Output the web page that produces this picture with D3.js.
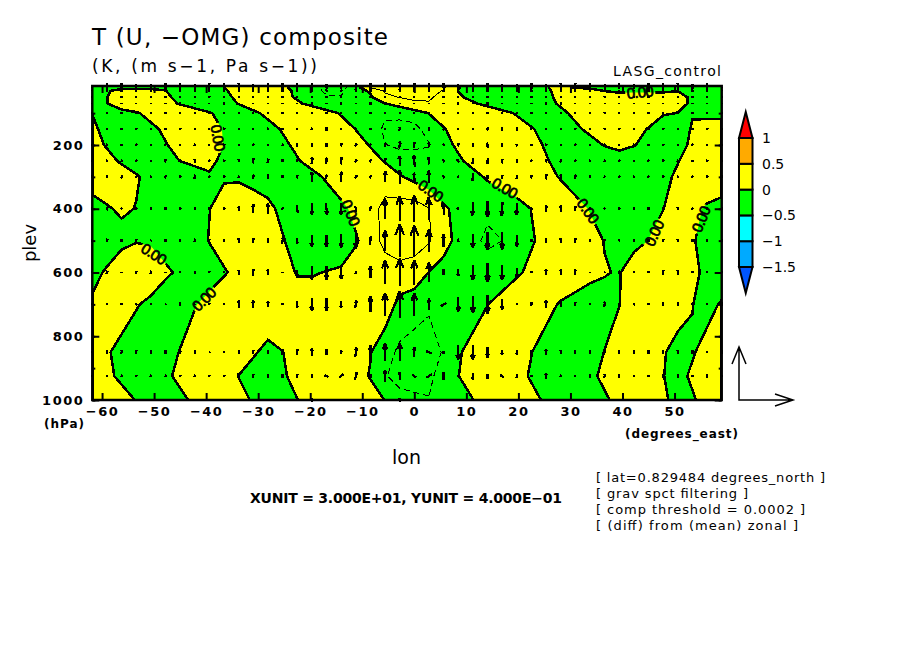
<!DOCTYPE html>
<html>
<head>
<meta charset="utf-8">
<style>
  body { margin: 0; background: #fff; }
  svg { display: block; }
  text { font-family: "DejaVu Sans", sans-serif; fill: #000; }
  .tick-label text { font-weight: bold; font-size: 13px; letter-spacing: 1.5px; }
</style>
<script src="https://cdn.jsdelivr.net/npm/d3@7"></script>
</head>
<body>
<div class="chart"></div>
<script>
// grid: 2.8125 deg columns, pressure levels top to bottom
const lons = d3.range(-22, 22).map(k => k * 2.8125);
const levels = [10, 20, 30, 50, 70, 100, 150, 200, 250, 300, 400, 500, 600, 700, 850, 925, 1000];

// T anomaly (K), one array per level
const t10 = [-.2,-.2,-.05,-.05,-.05,-.05,-.19,-.4,-.21,-.01,.19, .39,.27,.07,-.12,-.32,-.65,-.65,-.22,.5,.6,.65, .65,.65,.55,.03,-.22,-.4,-.4,-.4,-.24,-.04,.16, -.03,-.05,-.05,-.1,-.1,-.1,-.1,-.15,-.3,-.4,-.4];
const t20 = [-.2,-.2,-.05,-.05,-.05,-.05,-.19,-.4,-.21,-.01,.19, .39,.27,.07,-.12,-.32,-.65,-.65,-.22,.5,.6,.65, .65,.65,.55,.03,-.22,-.4,-.4,-.4,-.24,-.04,.16, -.03,-.05,-.05,-.1,-.1,-.1,-.1,-.15,-.3,-.4,-.4];
const t30 = [-.23,-.02,.06,.06,.06,.01,-.19,-.39,-.25,-.05,.15, .35,.32,.12,-.08,-.28,-.6,-.62,-.15,.05,.55,.6, .6,.6,.48,-.01,-.2,-.4,-.4,-.4,-.27,-.07,.13, .33,.11,-.01,-.05,-.04,-.04,-.04,-.01,-.2,-.4,-.4];
const t50 = [-.2,-.01,.2,.4,.28,.08,-.12,-.33,-.31,-.11,.09, .29,.34,.14,-.06,-.26,-.45,-.46,-.26,-.06,.4,.52, .6,.6,.27,.07,-.13,-.34,-.4,-.4,-.3,-.1,.11, .31,.4,.2,.12,.12,.12,.12,.13,-.07,-.27,-.4];
const t70 = [-.2,-.01,.2,.4,.36,.16,-.04,-.24,-.38,-.18,.02, .22,.4,.27,.07,-.13,-.34,-.4,-.4,-.2,-.01,.2, .4,.44,.4,.26,.06,-.14,-.34,-.4,-.34,-.14,.06, .26,.4,.4,.4,.4,.4,.33,.13,-.07,-.27,-.4];
const t100 = [-.02,-.25,-.12,-.05,.15,.35,.4,.24,.04,-.16,-.29, -.09,.11,.31,.4,.36,.16,-.04,-.24,-.4,-.4,-.39, -.19,.01,.21,.4,.4,.35,.15,-.05,-.25,-.3,-.1, .1,.3,.4,.4,.4,.3,.05,-.01,-.02,-.15,-.15];
const t150 = [.2,-.31,-.32,-.4,-.11,.09,.29,.37,.17,-.03,-.23, -.37,-.16,.04,.23,.4,.39,.19,-.01,-.21,-.6,-.65, -.7,-.23,-.03,.17,.37,.4,.4,.24,.04,-.16,-.29, -.09,.11,.31,.38,.18,-.03,-.3,-.17,.03,.25,.25];
const t200 = [.16,-.04,-.24,-.4,-.23,-.03,.16,.37,.19,-.01,-.22, -.4,-.3,-.1,.1,.3,.4,.37,.17,-.03,-.48,-.6, -.6,-.55,-.13,.07,.27,.4,.4,.35,.15,-.05,-.26, -.38,-.18,.03,.22,.03,-.18,-.33,-.13,.07,.27,.4];
const t250 = [.34,.14,-.06,-.26,-.4,-.2,.01,.2,.1,-.1,-.3, -.4,-.4,-.24,-.04,.16,.36,.4,.37,.17,-.03,-.25, -.25,-.2,-.2,-.07,.13,.34,.4,.4,.24,.04,-.16, -.36,-.4,-.4,-.4,-.4,-.4,-.22,-.02,.18,.38,.4];
const t300 = [.4,.4,.22,.06,-.18,-.38,-.4,-.4,-.05,-.05,-.08, -.2,-.2,-.4,-.34,-.14,.06,.26,.4,.4,.25,.05, -.15,-.35,-.4,-.34,-.14,.06,.26,.4,.37,.16,-.04, -.24,-.4,-.4,-.4,-.4,-.32,-.12,.08,.28,.4,.4];
const t400 = [-.31,-.06,.09,-.02,-.31,-.4,-.4,-.4,-.01,.19,.39, .3,.1,-.1,-.3,-.4,-.29,-.1,.11,.3,.65,.72, .75,.52,.07,-.12,-.33,-.4,-.4,-.21,.01,.19,.37, .17,-.03,-.23,-.4,-.4,-.2,-.01,.2,.15,-.08,-.23];
const t500 = [-.4,-.4,-.2,-.03,-.08,-.25,-.4,-.18,.02,.22,.4, .4,.23,.03,-.16,-.37,-.4,-.22,-.04,.18,.7,.75, .75,.55,.11,-.08,-.38,-.6,-.5,-.25,-.05,.15,.35, .38,.18,-.02,-.22,-.2,.01,.21,.24,.04,-.16,-.36];
const t600 = [-.2,.09,.5,.4,.4,.1,-.1,-.3,-.25,-.05,.15, .35,.37,.17,-.03,-.04,.02,.05,.18,.4,.17,.35, .25,-.01,-.11,-.4,-.4,-.25,-.29,-.08,.12,.31,.4, .4,.2,.03,-.04,.35,.38,.4,.3,.1,-.1,-.3];
const t700 = [.1,.4,.25,.05,-.15,-.35,-.23,-.03,.17,.37,.4, .4,.4,.4,.2,.26,.4,.4,.4,.4,.3,-.15, -.23,-.42,-.4,-.4,-.21,-.01,.2,.4,.35,.15,-.05, -.25,-.39,-.18,-.01,.22,.4,.4,.21,.01,-.15,.05];
const t850 = [.26,.05,-.15,-.35,-.38,-.18,.02,.22,.4,.4,.27, .06,-.14,-.01,.19,.4,.4,.4,.22,.02,-.3,-.6, -.75,-.75,-.45,-.05,.15,.35,.4,.2,.01,-.19,-.4, -.4,-.19,.01,.2,.4,.24,.04,-.16,-.04,.16,.36];
const t925 = [.3,.1,-.1,-.3,-.29,-.09,.11,.31,.39,.19,-.01, -.2,-.26,-.06,.14,.34,.4,.37,.17,-.03,-.48,-.6, -.65,-.65,-.2,-.01,.2,.4,.36,.15,-.05,-.25,-.4, -.3,-.1,.1,.3,.4,.2,.01,-.13,.07,.27,.4];
const t1000 = [.4,.38,.18,-.02,-.22,-.31,-.11,.09,.29,.36,.15, -.05,-.25,-.21,-.01,.19,.39,.4,.4,.2,-.01,-.4, -.43,-.47,-.3,-.2,-.01,.2,.4,.33,.13,-.07,-.27, -.4,-.27,-.07,.13,.33,.27,.07,-.13,-.05,.15,.35];
const tempRows = [t10, t20, t30, t50, t70, t100, t150, t200, t250, t300, t400, t500, t600, t700, t850, t925, t1000];

// -OMG (mPa/s, upward positive), one array per level
const w10 = [0,15,15,8,8,15,15,8,15,15,15, 8,15,15,15,15,8,15,15,23,15,15, 23,15,15,8,15,15,8,8,15,8,15, 15,15,8,15,8,15,15,23,8,15,0];
const w20 = [8,23,15,15,15,15,23,15,15,23,15, 15,15,23,15,45,15,15,45,45,23,53, 60,53,38,15,23,15,15,23,15,15,23, 30,15,15,15,15,15,15,30,15,15,8];
const w30 = [8,15,15,15,15,15,23,15,15,23,15, 15,15,23,15,23,15,15,23,15,15,23, 15,23,15,8,15,15,15,15,15,15,15, 15,15,15,8,8,15,15,15,15,15,8];
const w50 = [8,8,8,8,8,8,15,8,8,15,8, 8,8,8,8,8,8,8,8,8,8,8, 8,8,8,8,8,8,8,8,8,15,8, 8,8,8,8,8,8,8,8,8,8,8];
const w70 = [8,8,8,8,8,8,15,8,8,15,8, 8,8,8,8,15,8,15,8,15,8,8, 8,8,8,15,8,15,8,8,8,15,15, 8,8,8,8,8,8,8,8,8,8,8];
const w100 = [8,8,8,8,8,8,15,8,8,8,8, 8,8,8,8,8,8,8,8,8,15,8, 8,15,8,8,8,15,8,8,8,8,8, 8,8,8,8,8,8,8,8,8,8,8];
const w150 = [8,15,15,15,15,15,15,15,15,15,15, 15,15,15,15,15,23,15,15,15,15,30, 15,23,23,15,15,23,23,23,15,15,15, 15,15,8,15,15,15,15,15,15,15,8];
const w200 = [15,15,15,15,15,15,15,15,15,15,15, 15,15,15,23,23,30,23,15,15,30,53, 45,30,15,23,-23,-38,-23,-15,15,15,15, 15,15,15,15,15,15,15,15,15,15,15];
const w250 = [15,15,15,15,15,23,15,30,15,15,23, 38,30,23,23,53,45,53,15,23,38,75, 90,53,23,23,-45,-45,-30,-23,15,23,23, 15,15,15,15,15,15,15,15,15,15,15];
const w300 = [15,15,23,15,15,23,15,30,15,15,15, 30,30,23,23,75,30,75,23,23,83,105, 60,90,23,15,-53,-30,-30,-30,23,38,38, 30,15,15,15,15,15,15,15,15,15,15];
const w400 = [15,23,15,15,15,15,15,15,23,15,30, 68,75,23,-53,-83,-83,-90,-38,30,150,188, 195,165,90,15,-98,-120,-105,-90,15,45,45, 38,15,15,15,15,15,23,23,15,15,15];
const w500 = [15,23,23,23,8,15,23,23,23,23,38, 38,38,45,-38,-90,-90,-98,-113,60,150,248, 225,165,90,23,-105,-128,-128,-83,15,38,38, 38,15,15,15,15,15,23,23,15,15,15];
const w600 = [15,23,8,23,23,8,15,15,15,15,38, 53,45,8,-38,-105,-105,-98,-23,90,180,210, 188,150,45,-53,-113,-143,-113,-68,15,45,45, 45,8,8,23,15,15,38,38,15,15,15];
const w700 = [8,8,15,8,8,8,23,8,15,15,53, 53,45,15,-45,-98,-90,-53,53,120,173,203, 173,83,-23,-105,-128,-135,-75,15,30,60,38, 30,15,38,15,15,15,30,30,15,15,23];
const w850 = [15,30,30,30,30,23,23,23,8,15,23, 30,23,38,45,53,45,23,68,98,135,135, 75,15,-23,-113,-113,-75,-38,-30,30,45,30, 23,23,15,23,23,23,30,30,30,15,23];
const w925 = [8,15,15,15,15,15,15,15,15,15,38, 30,30,23,30,30,15,30,53,30,83,60, 23,23,60,15,-53,-38,15,-30,15,38,15, 15,23,30,23,15,15,23,23,15,30,15];
const w1000 = [0,15,15,8,8,15,15,8,15,15,15, 8,15,15,15,23,15,8,15,15,15,23, 15,15,15,8,8,8,15,15,15,15,8, 8,15,15,8,8,15,15,8,15,8,0];
const omgRows = [w10, w20, w30, w50, w70, w100, w150, w200, w250, w300, w400, w500, w600, w700, w850, w925, w1000];

// U anomaly (m/s), one array per level
const u10 = [0,0,0,0,0,0,0,0,0,0,0, 0,0,0,0,0,0,0,0,0,0,0, 0,0,0,0,0,0,0,0,0,0,0, 0,0,0,0,0,0,0,0,0,0,0];
const u20 = [0,0,0,0,0,0,0,0,0,0,0, 0,0,0,0,0,-1,0,0,0,0,0, 0,0,-1,0,0,0,0,0,0,0,0, 0,0,0,0,0,0,0,0,0,0,0];
const u30 = [0,0,0,0,0,0,0,0,0,0,0, 0,0,0,0,0,-1,1,0,0,0,0, 0,0,0,0,0,0,0,0,0,0,0, 0,0,0,0,0,0,0,0,0,0,0];
const u50 = [0,0,0,0,0,0,0,0,0,0,0, 0,0,0,0,0,0,0,0,0,0,0, 0,0,0,0,0,0,0,0,0,0,0, 0,0,0,0,0,0,0,0,0,0,0];
const u70 = [0,0,0,0,0,0,0,0,0,0,0, 0,0,0,0,0,0,0,0,0,0,0, 0,0,0,0,0,0,0,0,0,0,0, 0,0,0,0,0,0,0,0,0,0,0];
const u100 = [0,0,0,0,0,0,0,0,0,0,0, 0,0,0,0,0,0,0,0,0,0,0, 0,0,0,0,0,0,0,0,0,0,0, 0,0,0,0,0,0,0,0,0,0,0];
const u150 = [0,0,0,.5,0,0,.5,0,0,.5,0, 0,.5,0,0,.5,0,0,.5,0,0,.5, 0,0,.5,0,0,.5,0,0,.5,0,0, .5,0,0,.5,0,0,.5,0,0,.5,0];
const u200 = [0,.5,0,.5,0,.5,0,.5,0,.5,0, .5,0,.5,0,.5,0,.5,1,.5,0,.5, 0,-.5,-.5,.5,0,.5,0,.5,0,.5,0, .5,0,.5,0,.5,0,.5,0,.5,0,0];
const u250 = [0,.5,.5,.5,0,.5,.5,0,.5,.5,0, .5,.5,0,0,.5,.5,.5,1,1,.5,0, -.5,-.5,-1,-1,-.5,-.5,-.5,0,.5,.5,.5, .5,.5,.5,.5,0,.5,.5,.5,0,.5,0];
const u300 = [0,.5,.5,1,.5,1,.5,.5,.5,.5,.5, .5,0,0,.5,0,.5,.5,1,1,.5,0, -.5,-.5,-1,-.5,-.5,0,-.5,0,.5,.5,.5, .5,.5,.5,1,.5,.5,.5,.5,.5,.5,0];
const u400 = [0,.5,.5,.5,.5,0,.5,0,0,.5,0, 0,0,.5,.5,0,.5,0,.5,.5,0,0, 0,-.5,-.5,-1,-.5,0,-.5,-.5,0,.5,0, .5,.5,.5,.5,.5,0,.5,0,.5,0,0];
const u500 = [0,.5,0,.5,.5,0,0,.5,0,0,0, 0,0,.5,0,0,0,0,0,.5,0,0, 0,0,0,-.5,0,0,0,0,0,0,0, 0,.5,.5,.5,0,0,.5,0,0,0,0];
const u600 = [0,.5,0,.5,.5,0,0,.5,0,0,0, 0,0,0,0,0,0,0,0,0,0,0, 0,0,0,0,0,0,0,0,0,0,0, 0,0,.5,.5,0,0,0,0,0,0,0];
const u700 = [0,0,0,.5,.5,.5,0,.5,0,0,0, 0,0,0,0,0,0,0,.5,0,0,0, 0,0,-3,0,0,0,0,0,.5,0,0, 0,0,.5,0,.5,0,0,0,0,0,0];
const u850 = [0,0,.5,0,0,0,.5,0,.5,0,0, 0,0,0,0,0,0,.5,.5,0,0,0, 0,-3,0,0,0,0,0,0,0,0,0, 0,0,0,0,0,0,0,0,0,0,0];
const u925 = [0,0,.5,.5,.5,.5,.5,.5,.5,.5,-1, 0,0,0,0,0,-2,2,1,0,0,0, -2,3,0,0,0,0,-2,0,0,0,.5, 0,0,.5,-.5,0,0,0,0,0,0,0];
const u1000 = [0,0,0,0,0,0,0,0,0,0,0, 0,0,0,0,0,0,0,0,0,0,0, 0,0,0,0,0,0,0,0,0,0,0, 0,0,0,0,0,0,0,0,0,0,0];
const uRows = [u10, u20, u30, u50, u70, u100, u150, u200, u250, u300, u400, u500, u600, u700, u850, u925, u1000];

// contour labels on the zero line
const labelLons = [-37.7, -12.2, 3.2, 17.4, 33.4, 46.1, 55.1, 43.4, -50, -40.4];
const labelPlevs = [178, 413, 344, 335, 407, 476, 432, 34, 542, 683];
const labelAngles = [80, 68, 35, 30, 55, -65, -68, -5, 33, -45];

const xTicks = d3.range(-60, 51, 10);
const yTicks = [200, 400, 600, 800, 1000];
const yMinorTicks = d3.range(100, 1001, 100);

const barLevels = [-1.5, -1, -0.5, 0, 0.5, 1];
const barColors = ['#0055ff', '#00aaff', '#00ffff', '#00ff00', '#ffff00', '#ffaa00', '#ff0000'];

const infoLines = ['[ lat=0.829484 degrees_north ]', '[ grav spct filtering ]', '[ comp threshold = 0.0002 ]', '[ (diff) from (mean) zonal ]'];

const xUnit = 30, yUnit = 400;

const width = 904, height = 654;
const plotL = 92.3, plotR = 721.7, plotT = 86, plotB = 400;

const svg = d3.select('.chart').append('svg').attr('width', width).attr('height', height);

const x = d3.scaleLinear().domain([lons[0], lons[lons.length - 1]]).range([plotL, plotR]);
const y = d3.scaleLinear().domain([1000, 14.9]).range([plotB, plotT]);
const uLen = d3.scaleLinear().domain([0, xUnit]).range([0, 54]);
const wLen = d3.scaleLinear().domain([0, yUnit]).range([0, 53]);

// d3.contours puts grid values at cell centres
const xIdx = d3.scaleLinear().domain(lons.map((d, i) => i + 0.5)).range(lons.map(x)).clamp(true);
const yIdx = d3.scaleLinear().domain(levels.map((d, i) => i + 0.5)).range(levels.map(y)).clamp(true);
const gridPath = d3.geoPath(d3.geoTransform({
  point(px, py) { this.stream.point(xIdx(px), yIdx(py)); }
}));

const contours = d3.contours().size([lons.length, levels.length]);
const flat = tempRows.flat();
const contourAt = v => gridPath(contours.thresholds([v])(flat)[0]);

const defs = svg.append('defs');
defs.append('clipPath').attr('id', 'frame')
  .append('rect').attr('x', plotL).attr('y', plotT).attr('width', plotR - plotL).attr('height', plotB - plotT);

const labels = labelLons.map((d, i) => ({ lon: d, plev: labelPlevs[i], angle: labelAngles[i] }));
const place = d => `translate(${x(d.lon)},${y(d.plev)}) rotate(${d.angle})`;

const mask = defs.append('mask').attr('id', 'gaps').attr('maskUnits', 'userSpaceOnUse')
  .attr('x', 0).attr('y', 0).attr('width', width).attr('height', height);
mask.append('rect').attr('width', width).attr('height', height).attr('fill', '#fff');
mask.selectAll('rect.gap').data(labels).join('rect').attr('class', 'gap')
  .attr('x', -15).attr('y', -7).attr('width', 30).attr('height', 14)
  .attr('fill', '#000').attr('transform', place);

const plot = svg.append('g').attr('clip-path', 'url(#frame)');
plot.append('rect').attr('x', plotL).attr('y', plotT).attr('width', plotR - plotL).attr('height', plotB - plotT).attr('fill', '#00ff00');
plot.append('path').attr('d', contourAt(0)).attr('fill', '#ffff00');

const lines = plot.append('g').attr('fill', 'none').attr('stroke', '#000').style('shape-rendering', 'crispEdges');
lines.append('path').attr('d', contourAt(0.5)).attr('stroke-width', 1);
lines.append('path').attr('d', contourAt(-0.5)).attr('stroke-width', 1).attr('stroke-dasharray', '6,4');
lines.append('g').attr('mask', 'url(#gaps)')
  .append('path').attr('d', contourAt(0)).attr('stroke-width', 2.5);

svg.append('g').selectAll('text').data(labels).join('text')
  .attr('transform', place)
  .attr('x', -13.5).attr('dy', '0.36em')
  .attr('textLength', 27).attr('lengthAdjust', 'spacing')
  .attr('stroke', '#000').attr('stroke-width', 0.7)
  .style('font-family', '"Liberation Sans"').style('font-size', '15px')
  .text('0.00');

// vectors, centred on the grid point
const vectors = [];
levels.forEach((lev, j) => lons.forEach((lon, i) => {
  vectors.push({ lon, lev, u: uRows[j][i], w: omgRows[j][i] });
}));

const arrowPath = (cx, cy, dx, dy) => {
  const len = Math.hypot(dx, dy) || 1;
  const ux = dx / len, uy = dy / len;
  const tipX = cx + dx / 2, tipY = cy + dy / 2;
  const backX = tipX - ux * len / 3, backY = tipY - uy * len / 3;
  const side = len * 0.13;
  const p = d3.path();
  p.moveTo(cx - dx / 2, cy - dy / 2);
  p.lineTo(tipX, tipY);
  p.moveTo(backX - uy * side, backY + ux * side);
  p.lineTo(tipX, tipY);
  p.lineTo(backX + uy * side, backY - ux * side);
  return p.toString();
};

svg.append('g').attr('fill', 'none').attr('stroke', '#000').attr('stroke-width', 2.2)
  .attr('stroke-linecap', 'butt').attr('stroke-linejoin', 'bevel').style('shape-rendering', 'crispEdges')
  .selectAll('path').data(vectors).join('path')
  .attr('d', d => arrowPath(x(d.lon), y(d.lev), uLen(d.u), -wLen(d.w)));

// frame and axes
svg.append('rect').attr('x', plotL).attr('y', plotT).attr('width', plotR - plotL).attr('height', plotB - plotT)
  .attr('fill', 'none').attr('stroke', '#000').attr('stroke-width', 2.5);

const tickGroup = (axis, tx, ty, cls) => {
  const g = svg.append('g').attr('transform', `translate(${tx},${ty})`).attr('class', cls || null).call(axis);
  g.select('.domain').remove();
  g.selectAll('line').attr('stroke-width', 2);
  return g;
};

tickGroup(d3.axisBottom(x).tickValues(xTicks).tickSize(-7).tickPadding(7), 0, plotB, 'tick-label');
tickGroup(d3.axisLeft(y).tickValues(yTicks).tickSize(-7).tickPadding(8).tickFormat(d3.format('d')), plotL, 0, 'tick-label');
tickGroup(d3.axisTop(x).tickValues(xTicks).tickSize(-7).tickFormat(''), 0, plotT);
tickGroup(d3.axisRight(y).tickValues(yTicks).tickSize(-7).tickFormat(''), plotR, 0);
tickGroup(d3.axisLeft(y).tickValues(yMinorTicks).tickSize(-3).tickFormat(''), plotL, 0);
tickGroup(d3.axisRight(y).tickValues(yMinorTicks).tickSize(-3).tickFormat(''), plotR, 0);

// colour bar
const barX = 739, barW = 13.5, barMid = barX + barW / 2;
const bar = d3.scaleLinear().domain([-1.5, 1]).range([267, 138]);
const barG = svg.append('g').attr('stroke', '#000').attr('stroke-width', 2);
barG.selectAll('rect').data(d3.pairs(barLevels)).join('rect')
  .attr('x', barX).attr('width', barW)
  .attr('y', d => bar(d[1])).attr('height', d => bar(d[0]) - bar(d[1]))
  .attr('fill', (d, i) => barColors[i + 1]);
barG.append('path').attr('d', d3.line()([[barX, bar(1)], [barMid, 112], [barX + barW, bar(1)]]) + 'Z').attr('fill', barColors[6]);
barG.append('path').attr('d', d3.line()([[barX, bar(-1.5)], [barMid, 293], [barX + barW, bar(-1.5)]]) + 'Z').attr('fill', barColors[0]);
svg.append('g').selectAll('text').data(barLevels).join('text')
  .attr('x', 762).attr('y', d => bar(d)).attr('dy', '0.36em')
  .style('font-size', '14px').text(d => d3.format('')(d));

// unit vectors
const keyX = 739, keyY = 400;
const keyTipX = keyX + uLen(xUnit), keyTipY = keyY - wLen(yUnit);
svg.append('path').attr('fill', 'none').attr('stroke', '#000').attr('stroke-width', 1.5)
  .attr('d', d3.line()([[keyX - 7, keyTipY + 17], [keyX, keyTipY], [keyX + 7, keyTipY + 17]]) + ' '
    + d3.line()([[keyX, keyTipY], [keyX, keyY], [keyTipX, keyY]]) + ' '
    + d3.line()([[keyTipX - 18, keyY - 6], [keyTipX, keyY], [keyTipX - 18, keyY + 6]]));

// texts, fitted to the reference widths
const label = (s, tx, ty, size, len, weight) => svg.append('text')
  .attr('x', tx).attr('y', ty).attr('textLength', len).attr('lengthAdjust', 'spacing')
  .style('font-size', size + 'px').style('font-weight', weight || 'normal').text(s);

label('T (U, −OMG) composite', 92, 45, 23, 296);
label('(K, (m s−1, Pa s−1))', 92, 72, 17, 225);
label('LASG_control', 613, 76, 14, 108);
label('(hPa)', 44, 428, 12, 40, 'bold');
label('(degrees_east)', 625, 438, 12, 113, 'bold');
label('lon', 392, 464, 19, 29);
label('XUNIT = 3.000E+01, YUNIT = 4.000E−01', 250, 503, 14, 312, 'bold');
infoLines.forEach((s, i) => label(s, 596, [482, 498, 514, 530][i], 13, [229, 152, 209, 202][i]));

svg.append('text').attr('transform', 'translate(36,243) rotate(-90)').attr('text-anchor', 'middle')
  .style('font-size', '18px').text('plev');
</script>
</body>
</html>
